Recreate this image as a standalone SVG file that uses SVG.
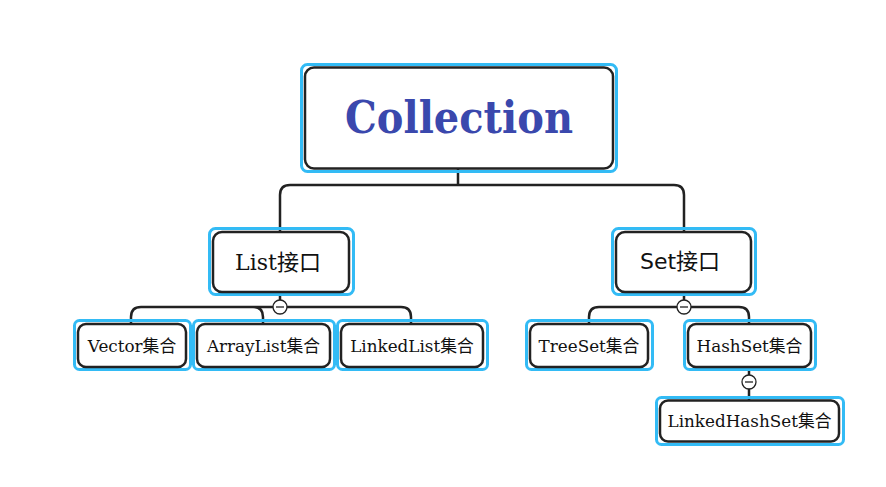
<svg xmlns="http://www.w3.org/2000/svg" width="886" height="487" viewBox="0 0 886 487">
<style>
.sel{fill:none;stroke:#33bbf5;stroke-width:3}
.box{fill:#fff;stroke:#222;stroke-width:2.5}
.t{font-family:"DejaVu Serif","Noto Sans CJK SC",serif;fill:#111;text-anchor:middle}
.s{font-family:"DejaVu Sans","Noto Sans CJK SC",sans-serif;fill:#111;text-anchor:middle}
.c{font-size:16.8px}
.con{fill:none;stroke:#222;stroke-width:2.5}
.fold{fill:#fff;stroke:#222;stroke-width:1.3}
</style>
<rect width="886" height="487" fill="#fff"/>
<g id="connectors">
<path class="con" d="M458 169V185H290Q280 185 280 195V232M458 185H674Q684 185 684 195V232"/>
<path class="con" d="M280 292V307H141Q131 307 131 317V324M280 307H253Q263 307 263 317V324M280 307H401Q411 307 411 317V324"/>
<path class="con" d="M684 292V307H599Q589 307 589 317V324M684 307H739Q749 307 749 317V324"/>
<path class="con" d="M749 367V400"/>
<g class="fold"><circle cx="280" cy="307" r="7"/><path d="M276 307H284"/></g>
<g class="fold"><circle cx="684" cy="307" r="7"/><path d="M680 307H688"/></g>
<g class="fold"><circle cx="749" cy="382" r="7"/><path d="M745 382H753"/></g>
</g>
<g id="collection">
<rect class="sel" x="301.5" y="64.5" width="315" height="107" rx="6"/>
<rect class="box" x="305" y="67.5" width="308" height="101" rx="9"/>
<text class="t" x="459" y="133" font-size="44" font-weight="bold" style="fill:#3a48ad" textLength="228" lengthAdjust="spacingAndGlyphs">Collection</text>
</g>
<g id="list">
<rect class="sel" x="209.5" y="228.5" width="144" height="66" rx="6"/>
<rect class="box" x="213" y="232" width="136" height="60" rx="9"/>
<text class="t" x="278" y="270" font-size="22">List接口</text>
</g>
<g id="set">
<rect class="sel" x="612.5" y="228.5" width="143" height="66" rx="6"/>
<rect class="box" x="616" y="232" width="135" height="60" rx="9"/>
<text class="s" x="680" y="269" font-size="22">Set接口</text>
</g>
<g id="vector">
<rect class="sel" x="74.5" y="320.5" width="116" height="49" rx="5"/>
<rect class="box" x="78" y="324" width="108" height="43" rx="8"/>
<text class="t c" x="132" y="352">Vector集合</text>
</g>
<g id="arraylist">
<rect class="sel" x="193.5" y="320.5" width="141" height="49" rx="5"/>
<rect class="box" x="197" y="324" width="133" height="43" rx="8"/>
<text class="t c" x="263.5" y="352">ArrayList集合</text>
</g>
<g id="linkedlist">
<rect class="sel" x="337.5" y="320.5" width="150" height="49" rx="5"/>
<rect class="box" x="341" y="324" width="142" height="43" rx="8"/>
<text class="t c" x="412" y="352">LinkedList集合</text>
</g>
<g id="treeset">
<rect class="sel" x="526.5" y="320.5" width="126" height="49" rx="5"/>
<rect class="box" x="530" y="324" width="118" height="43" rx="8"/>
<text class="t c" x="589" y="352">TreeSet集合</text>
</g>
<g id="hashset">
<rect class="sel" x="684.5" y="320.5" width="131" height="49" rx="5"/>
<rect class="box" x="688" y="324" width="123" height="43" rx="8"/>
<text class="t c" x="749.5" y="352">HashSet集合</text>
</g>
<g id="linkedhashset">
<rect class="sel" x="656.5" y="397.5" width="187" height="47" rx="5"/>
<rect class="box" x="660" y="400.5" width="179" height="41" rx="8"/>
<text class="t c" x="749.5" y="427">LinkedHashSet集合</text>
</g>
</svg>
